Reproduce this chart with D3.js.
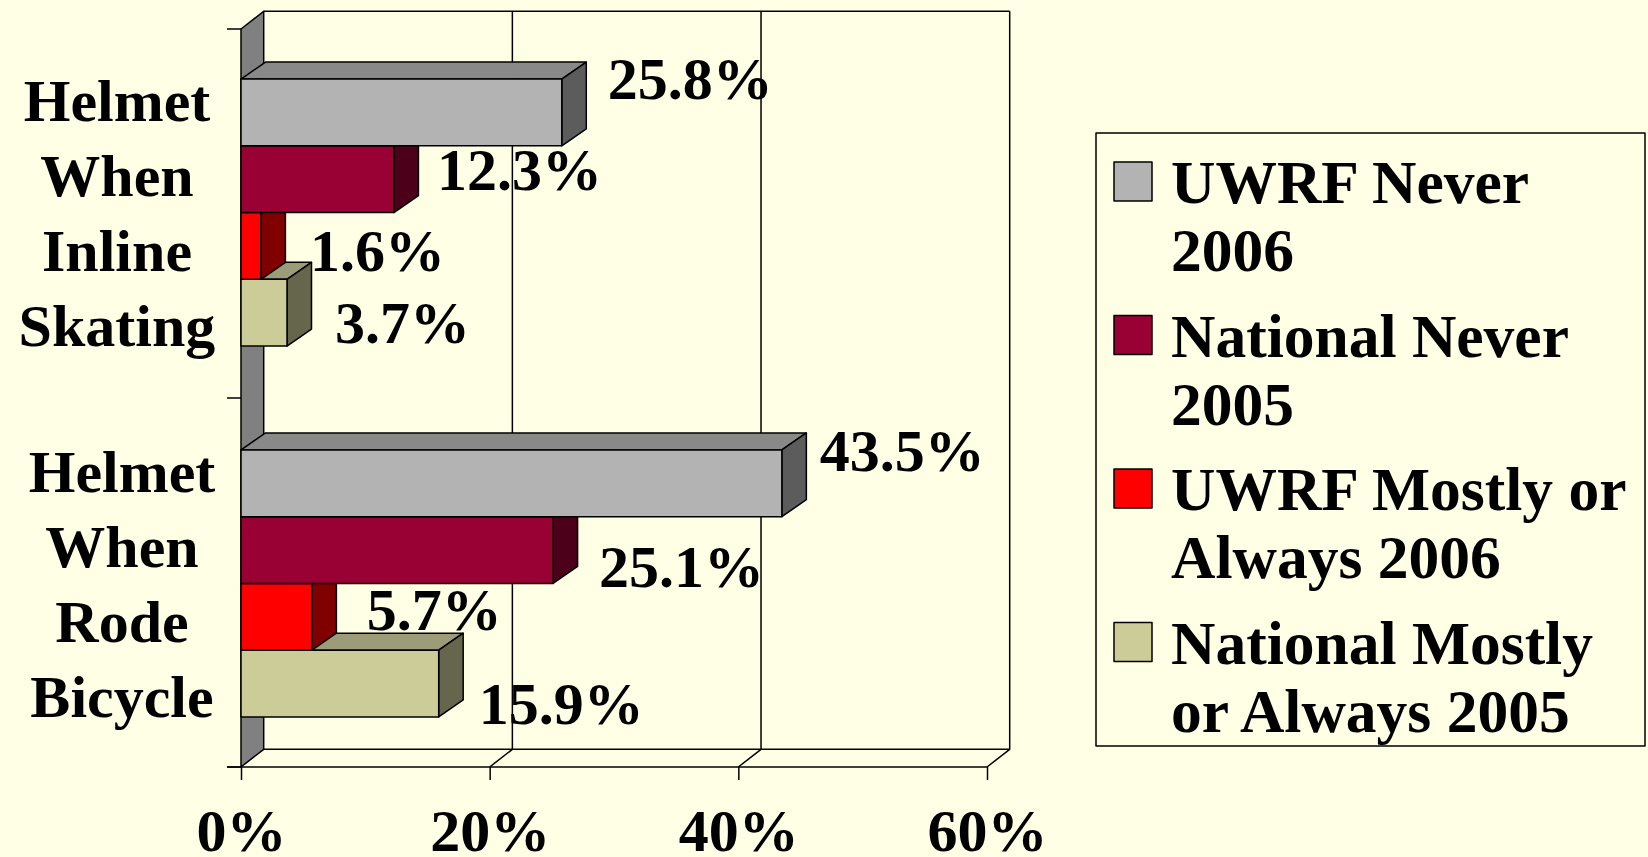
<!DOCTYPE html>
<html>
<head>
<meta charset="utf-8">
<script src="https://cdn.jsdelivr.net/npm/d3@7"></script>
<style>
  html, body { margin: 0; padding: 0; background: #FFFFE5; }
  svg { display: block; }
  text { font-family: "Liberation Serif", "Times New Roman", serif; font-weight: bold; fill: #000; }
</style>
</head>
<body>
<svg id="chart" width="1648" height="857"></svg>
<script>
// chart data
const categories = ['Helmet When Inline Skating', 'Helmet When Rode Bicycle'];
const seriesNames = [
	['UWRF Never', '2006'],
	['National Never', '2005'],
	['UWRF Mostly or', 'Always 2006'],
	['National Mostly', 'or Always 2005']
];
const uwrfNever2006 = [25.8, 43.5];
const nationalNever2005 = [12.3, 25.1];
const uwrfMostly2006 = [1.6, 5.7];
const nationalMostly2005 = [3.7, 15.9];
const xTicks = [0, 20, 40, 60];

const seriesValues = [uwrfNever2006, nationalNever2005, uwrfMostly2006, nationalMostly2005];

// front / top / side shades for each series
const shades = [
	{ front: '#B3B3B3', top: '#898989', side: '#5C5C5C' },
	{ front: '#990033', top: '#730027', side: '#4D001A' },
	{ front: '#FF0000', top: '#BF0000', side: '#800000' },
	{ front: '#CCCC99', top: '#9C9C79', side: '#66664C' }
];

// where Excel put each value label, relative to bar end / bar middle
const labelNudge = [
	[[46, -13], [43, 11], [49, 25], [48, 30]],
	[[38, -12], [46, 37], [55, 13], [40, 40]]
];
// category label centres (they are not quite aligned in the original)
const catLabelX = [117, 122];

const svg = d3.select('#chart');
svg.append('rect').attr('width', 1648).attr('height', 857).attr('fill', '#FFFFE5');

const plotTop = 29;
const plotBottom = 767;
const depthX = 22.7;
const depthY = 17.7;
const barDX = 24.5;
const barDY = 17;

const xScale = d3.scaleLinear().domain([0, 60]).range([241, 987]);

const yScale = d3.scaleBand()
	.domain(categories)
	.range([plotTop, plotBottom])
	.paddingInner(0.28)
	.paddingOuter(0.135);

const seriesKeys = seriesNames.map((d) => d.join(' '));
const ySeries = d3.scaleBand()
	.domain(seriesKeys)
	.range([0, yScale.bandwidth()]);

const yEdge = d3.scaleLinear().domain([0, categories.length]).range([plotTop, plotBottom]);

const line = d3.line();
const ink = (sel) => sel.attr('stroke', '#000').attr('stroke-width', 1.5).attr('stroke-linejoin', 'round');

// back wall: top edge, gridlines, right edge
const walls = svg.append('g');
walls.append('path')
	.call(ink)
	.attr('fill', 'none')
	.attr('d', line([[xScale(0) + depthX, plotTop - depthY], [xScale(60) + depthX, plotTop - depthY]]));

walls.selectAll('.grid')
	.data(xTicks.slice(1))
	.enter().append('path')
	.call(ink)
	.attr('fill', 'none')
	.attr('d', (d) => line([
		[xScale(d) + depthX, plotTop - depthY],
		[xScale(d) + depthX, plotBottom - depthY],
		[xScale(d), plotBottom]
	]));

// floor back edge
walls.append('path')
	.call(ink)
	.attr('fill', 'none')
	.attr('d', line([[xScale(0) + depthX, plotBottom - depthY], [xScale(60) + depthX, plotBottom - depthY]]));

// left wall
walls.append('path')
	.call(ink)
	.attr('fill', '#808080')
	.attr('d', line([
		[xScale(0), plotTop],
		[xScale(0) + depthX, plotTop - depthY],
		[xScale(0) + depthX, plotBottom - depthY],
		[xScale(0), plotBottom]
	]) + 'Z');

// category ticks on the wall edge
walls.selectAll('.ytick')
	.data(d3.range(categories.length + 1))
	.enter().append('path')
	.call(ink)
	.attr('d', (i) => line([[xScale(0) - 14, yEdge(i)], [xScale(0), yEdge(i)]]));

// x axis
const xAxis = svg.append('g')
	.attr('transform', `translate(0,${plotBottom})`)
	.call(d3.axisBottom(xScale)
		.tickValues(xTicks)
		.tickFormat((d) => d + '%')
		.tickSize(13)
		.tickSizeOuter(0));
xAxis.select('.domain').remove();
xAxis.selectAll('line').attr('stroke', '#000').attr('stroke-width', 1.5);
xAxis.selectAll('text')
	.attr('y', 84)
	.attr('dy', 0)
	.attr('font-size', 60)
	.attr('font-family', '"Liberation Serif", "Times New Roman", serif')
	.attr('font-weight', 'bold')
	.attr('fill', '#000');
svg.append('path')
	.call(ink)
	.attr('d', line([[xScale(0) - 14, plotBottom], [xScale(60), plotBottom]]));

// bars, bottom one first so upper bars hide what they should
const bars = svg.append('g');
categories.forEach((cat, ci) => {
	d3.range(seriesValues.length).reverse().forEach((si) => {
		const v = seriesValues[si][ci];
		const y = yScale(cat) + ySeries(seriesKeys[si]);
		const h = ySeries.bandwidth();
		const x0 = xScale(0);
		const x1 = xScale(v);
		const g = bars.append('g');
		g.append('path')
			.call(ink)
			.attr('fill', shades[si].top)
			.attr('d', line([[x0, y], [x1, y], [x1 + barDX, y - barDY], [x0 + barDX, y - barDY]]) + 'Z');
		g.append('path')
			.call(ink)
			.attr('fill', shades[si].side)
			.attr('d', line([[x1, y], [x1 + barDX, y - barDY], [x1 + barDX, y + h - barDY], [x1, y + h]]) + 'Z');
		g.append('rect')
			.call(ink)
			.attr('fill', shades[si].front)
			.attr('x', x0)
			.attr('y', y)
			.attr('width', x1 - x0)
			.attr('height', h);
	});
});

// value labels
categories.forEach((cat, ci) => {
	seriesValues.forEach((vals, si) => {
		const v = vals[ci];
		const mid = yScale(cat) + ySeries(seriesKeys[si]) + ySeries.bandwidth() / 2;
		svg.append('text')
			.attr('x', xScale(v) + labelNudge[ci][si][0])
			.attr('y', mid + labelNudge[ci][si][1])
			.attr('font-size', 60)
			.text(v.toFixed(1) + '%');
	});
});

// category labels, one word per line
categories.forEach((cat, ci) => {
	const mid = yScale(cat) + yScale.bandwidth() / 2;
	const t = svg.append('text')
		.attr('text-anchor', 'middle')
		.attr('font-size', 60);
	cat.split(' ').forEach((word, i) => {
		t.append('tspan')
			.attr('x', catLabelX[ci])
			.attr('y', mid - 91.5 + i * 75)
			.text(word);
	});
});

// legend
const legend = svg.append('g').attr('transform', 'translate(1096,133)');
legend.append('rect')
	.call(ink)
	.attr('fill', 'none')
	.attr('width', 549)
	.attr('height', 613);
const item = legend.selectAll('.item')
	.data(seriesNames)
	.enter().append('g')
	.attr('transform', (d, i) => `translate(0,${i * 153.5})`);
item.append('rect')
	.call(ink)
	.attr('x', 18)
	.attr('y', 29)
	.attr('width', 38)
	.attr('height', 39)
	.attr('fill', (d, i) => shades[i].front);
item.append('text')
	.attr('font-size', 61.5)
	.selectAll('tspan')
	.data((d) => d)
	.enter().append('tspan')
	.attr('x', 75)
	.attr('y', (d, i) => 70 + i * 68.4)
	.text((d) => d);
</script>
</body>
</html>
